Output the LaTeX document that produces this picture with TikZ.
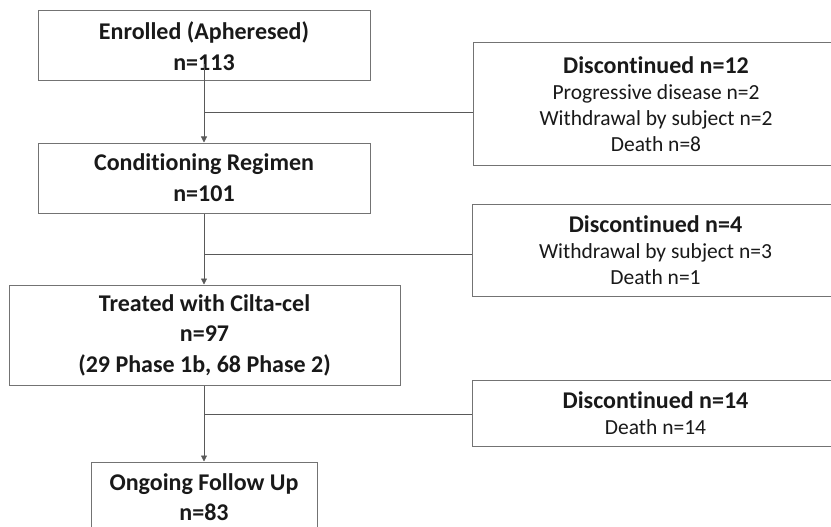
\documentclass[tikz,border=0pt]{standalone}
\usepackage{fontspec}
\setmainfont{Carlito}[Ligatures=NoCommon]
\usetikzlibrary{arrows.meta}
\begin{document}
\begin{tikzpicture}[x=1pt,y=-1pt,
  box/.style={draw=black!55, line width=1pt, fill=white, rectangle, inner sep=0pt, align=center, text=black!90},
  conn/.style={draw=black!65, line width=0.8pt},
  arr/.style={conn, -{Triangle[length=6pt,width=6pt]}},
  ttl/.style={font=\fontsize{24}{31}\selectfont\bfseries},
  sub/.style={font=\fontsize{21.5}{26}\selectfont}]
\useasboundingbox[fill=white] (0,0) rectangle (831,527);
\begin{scope}
\clip (0,0) rectangle (831,527);
% main column
\node[box, minimum width=332, minimum height=70, ttl] (enr) at (204,46) {Enrolled (Apheresed)\\n=113};
\node[box, minimum width=332, minimum height=70, ttl] (cond) at (204,178) {Conditioning Regimen\\n=101};
\node[box, minimum width=391, minimum height=100, ttl, font=\fontsize{24}{30.5}\selectfont\bfseries] (trt) at (204.5,335) {Treated with Cilta-cel\\n=97\\(29 Phase 1b, 68 Phase 2)};
\node[box, minimum width=226, minimum height=70, ttl, font=\fontsize{24}{30}\selectfont\bfseries] (fu) at (204,497) {Ongoing Follow Up\\n=83};
% side boxes
\node[box, minimum width=366, minimum height=122, sub] (d1) at (656,104) {{\fontsize{24}{28}\selectfont\bfseries Discontinued n=12}\\Progressive disease n=2\\Withdrawal by subject n=2\\Death n=8};
\node[box, minimum width=367, minimum height=92, sub] (d2) at (655.5,250) {{\fontsize{24}{28}\selectfont\bfseries Discontinued n=4}\\Withdrawal by subject n=3\\Death n=1};
\node[box, minimum width=367, minimum height=66, sub] (d3) at (655.5,413) {{\fontsize{24}{28}\selectfont\bfseries Discontinued n=14}\\Death n=14};
% branch points
\coordinate (b1) at (204,112);
\coordinate (b2) at (204,254);
\coordinate (b3) at (204,414);
% connectors
\draw[arr] (204,64) -- (cond.north);
\draw[conn] (b1) -- (d1.west |- b1);
\draw[arr] (cond.south) -- (trt.north -| cond.south);
\draw[conn] (b2) -- (d2.west |- b2);
\draw[arr] (trt.south -| cond.south) -- (fu.north);
\draw[conn] (b3) -- (d3.west |- b3);
\end{scope}
\end{tikzpicture}
\end{document}
